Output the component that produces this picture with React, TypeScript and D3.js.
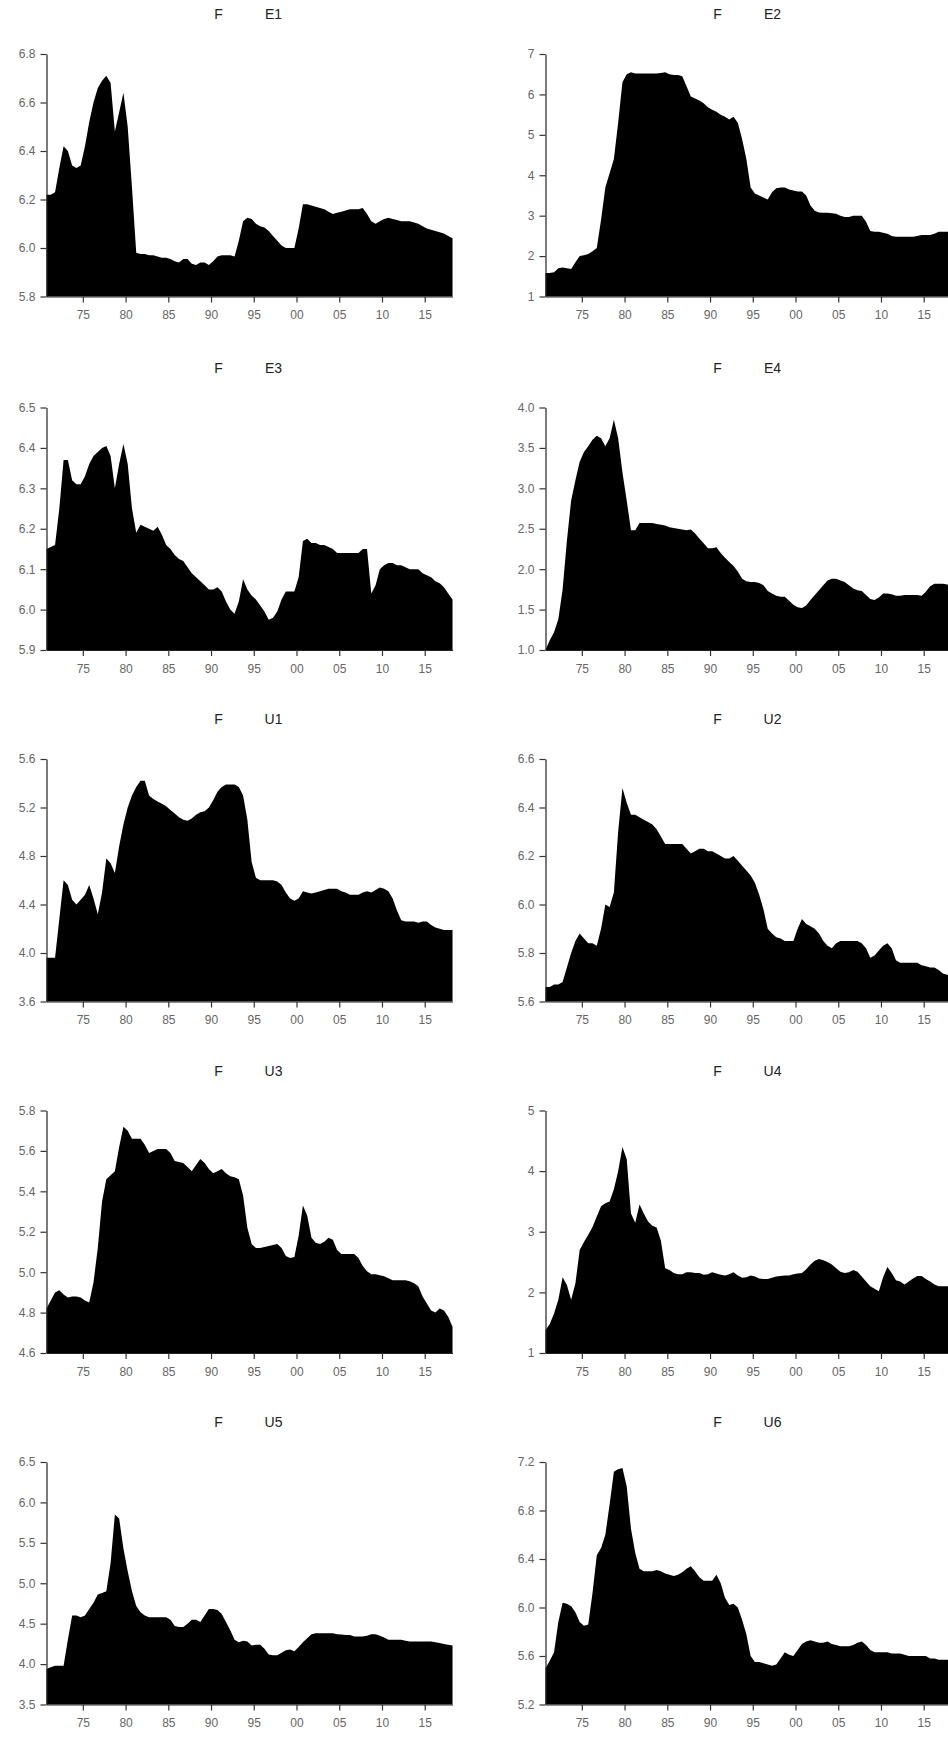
import { useEffect, useRef } from "react";
import * as d3 from "d3";

// half-year samples, first point at 1970.75
const START_YEAR = 1970.75;
const STEP = 0.5;

const xTickYears = [1975, 1980, 1985, 1990, 1995, 2000, 2005, 2010, 2015];
const xTickLabels = ["75", "80", "85", "90", "95", "00", "05", "10", "15"];

const e1 = [
  6.22, 6.22, 6.23, 6.33, 6.42, 6.4, 6.34, 6.33, 6.34, 6.42, 6.52, 6.6, 6.66, 6.69, 6.71, 6.68,
  6.48, 6.56, 6.64, 6.5, 6.25, 5.98, 5.975, 5.975, 5.97, 5.97, 5.965, 5.96, 5.96, 5.955, 5.945, 5.94,
  5.955, 5.955, 5.935, 5.93, 5.94, 5.94, 5.93, 5.945, 5.965, 5.97, 5.97, 5.97, 5.965, 6.03, 6.11, 6.125,
  6.12, 6.1, 6.09, 6.085, 6.07, 6.05, 6.03, 6.01, 6.0, 6.0, 6.0, 6.08, 6.18, 6.18, 6.175, 6.17,
  6.165, 6.16, 6.15, 6.14, 6.145, 6.15, 6.155, 6.16, 6.16, 6.16, 6.165, 6.14, 6.11, 6.1, 6.11, 6.12,
  6.125, 6.12, 6.115, 6.11, 6.11, 6.11, 6.105, 6.1, 6.09, 6.08, 6.075, 6.07, 6.065, 6.06, 6.05, 6.04,
];
const e2 = [
  1.58, 1.58, 1.6, 1.7, 1.72, 1.7, 1.68, 1.85, 2.0, 2.02, 2.05, 2.12, 2.2, 2.9, 3.7, 4.05,
  4.4, 5.3, 6.3, 6.5, 6.55, 6.52, 6.52, 6.52, 6.52, 6.52, 6.52, 6.53, 6.55, 6.5, 6.48, 6.48,
  6.45, 6.2, 5.95, 5.9, 5.85, 5.78, 5.68, 5.62, 5.57, 5.5, 5.45, 5.38, 5.45, 5.3, 4.9, 4.4,
  3.7, 3.55, 3.5, 3.45, 3.4, 3.58, 3.68, 3.7, 3.7, 3.65, 3.62, 3.6, 3.6, 3.5, 3.25, 3.12,
  3.08, 3.07, 3.07, 3.06, 3.05, 3.0, 2.97, 2.97, 3.0, 3.0, 3.0, 2.85, 2.62, 2.6, 2.6, 2.58,
  2.55, 2.5, 2.48, 2.48, 2.48, 2.48, 2.48, 2.5, 2.52, 2.52, 2.52, 2.55, 2.6, 2.6, 2.6, 2.62,
];
const e3 = [
  6.15, 6.155, 6.16, 6.25, 6.37, 6.37, 6.32, 6.31, 6.31, 6.33, 6.36, 6.38, 6.39, 6.4, 6.405, 6.38,
  6.3, 6.36, 6.41, 6.36, 6.25, 6.19, 6.21, 6.205, 6.2, 6.195, 6.205, 6.185, 6.16, 6.15, 6.135, 6.125,
  6.12, 6.105, 6.09, 6.08, 6.07, 6.06, 6.05, 6.05, 6.055, 6.045, 6.02, 6.0, 5.99, 6.02, 6.075, 6.05,
  6.035, 6.025, 6.01, 5.995, 5.975, 5.98, 5.995, 6.025, 6.045, 6.045, 6.045, 6.08, 6.17, 6.175, 6.165, 6.165,
  6.16, 6.16, 6.155, 6.15, 6.14, 6.14, 6.14, 6.14, 6.14, 6.14, 6.15, 6.15, 6.04, 6.06, 6.1, 6.11,
  6.115, 6.115, 6.11, 6.11, 6.105, 6.1, 6.1, 6.1, 6.09, 6.085, 6.08, 6.07, 6.065, 6.055, 6.04, 6.025,
];
const e4 = [
  1.0, 1.12, 1.22, 1.38, 1.75, 2.35, 2.85, 3.1, 3.33, 3.45, 3.52, 3.6, 3.65, 3.62, 3.52, 3.62,
  3.85, 3.62, 3.2, 2.85, 2.48, 2.48, 2.57, 2.57, 2.57, 2.57, 2.56, 2.55, 2.54, 2.52, 2.51, 2.5,
  2.49, 2.48, 2.49, 2.44, 2.38, 2.32, 2.26, 2.26, 2.27, 2.2, 2.14, 2.09, 2.04, 1.97, 1.88, 1.85,
  1.84, 1.84, 1.83, 1.8, 1.73, 1.7, 1.67, 1.66, 1.66, 1.61, 1.56, 1.53, 1.52, 1.55, 1.62, 1.68,
  1.74, 1.8, 1.86, 1.88, 1.88, 1.86, 1.84, 1.8, 1.76, 1.74, 1.73, 1.68, 1.63, 1.62, 1.65, 1.7,
  1.7, 1.69, 1.67, 1.67, 1.68, 1.68, 1.68, 1.68, 1.67, 1.72, 1.79, 1.82, 1.82, 1.82, 1.81, 1.8,
];
const u1 = [
  3.96, 3.96, 3.96, 4.28, 4.6, 4.56, 4.44, 4.4, 4.44, 4.48, 4.56, 4.45, 4.32, 4.5, 4.78, 4.74,
  4.66, 4.88, 5.06, 5.2, 5.3, 5.37, 5.42, 5.42, 5.3, 5.27, 5.25, 5.23, 5.21, 5.18, 5.15, 5.12,
  5.1, 5.09, 5.11, 5.14, 5.16, 5.17, 5.2, 5.26, 5.33, 5.37, 5.39, 5.39, 5.39, 5.37, 5.3, 5.1,
  4.75, 4.62, 4.6, 4.6, 4.6, 4.6, 4.59, 4.56, 4.5, 4.45, 4.43, 4.45, 4.51, 4.5, 4.49, 4.5,
  4.51, 4.52, 4.53, 4.53, 4.53, 4.51, 4.5, 4.48, 4.48, 4.48, 4.5, 4.51, 4.5, 4.52, 4.54, 4.53,
  4.51, 4.45, 4.35, 4.27, 4.26, 4.26, 4.26, 4.25, 4.26, 4.26, 4.23, 4.21, 4.2, 4.19, 4.19, 4.19,
];
const u2 = [
  5.66, 5.66, 5.67, 5.67, 5.68, 5.74, 5.8, 5.85, 5.88, 5.86, 5.84, 5.84, 5.83, 5.9, 6.0, 5.99,
  6.05, 6.3, 6.48, 6.42, 6.37, 6.37, 6.36, 6.35, 6.34, 6.33, 6.31, 6.28, 6.25, 6.25, 6.25, 6.25,
  6.25, 6.23, 6.21, 6.22, 6.23, 6.23, 6.22, 6.22, 6.21, 6.2, 6.19, 6.19, 6.2, 6.18, 6.16, 6.14,
  6.12, 6.09, 6.04, 5.98, 5.9, 5.88, 5.865, 5.86, 5.85, 5.85, 5.85, 5.9, 5.94, 5.92, 5.91, 5.9,
  5.88, 5.85, 5.83, 5.82, 5.84, 5.85, 5.85, 5.85, 5.85, 5.85, 5.84, 5.82, 5.78, 5.79, 5.81, 5.83,
  5.84, 5.82, 5.77, 5.76, 5.76, 5.76, 5.76, 5.76, 5.75, 5.745, 5.74, 5.74, 5.73, 5.715, 5.71, 5.7,
];
const u3 = [
  4.82, 4.86, 4.9, 4.91, 4.89, 4.875, 4.88, 4.88, 4.875, 4.86, 4.85, 4.95, 5.12, 5.35, 5.46, 5.48,
  5.5, 5.62, 5.72, 5.7, 5.66, 5.66, 5.66, 5.63, 5.59, 5.6, 5.61, 5.61, 5.61, 5.59, 5.55, 5.545,
  5.54, 5.52, 5.5, 5.53, 5.56, 5.54, 5.51, 5.49, 5.5, 5.51, 5.49, 5.475, 5.47, 5.46, 5.38, 5.22,
  5.14, 5.12, 5.12, 5.125, 5.13, 5.135, 5.14, 5.12, 5.08, 5.07, 5.075, 5.18, 5.33, 5.28, 5.17, 5.145,
  5.14, 5.15, 5.17, 5.16, 5.11, 5.09, 5.09, 5.09, 5.09, 5.07, 5.03, 5.005, 4.99, 4.99, 4.985, 4.98,
  4.97, 4.96, 4.96, 4.96, 4.96, 4.955, 4.945, 4.93, 4.88, 4.845, 4.81, 4.8, 4.82, 4.81, 4.78, 4.73,
];
const u4 = [
  1.38, 1.48, 1.65, 1.88, 2.25, 2.12, 1.88, 2.15, 2.7, 2.83, 2.95, 3.08, 3.25, 3.42, 3.47, 3.5,
  3.7, 4.0, 4.4, 4.2, 3.3, 3.15, 3.45, 3.3, 3.17, 3.1, 3.07, 2.85, 2.4, 2.37, 2.32, 2.3,
  2.3, 2.33, 2.33, 2.32, 2.32, 2.29, 2.3, 2.33, 2.31, 2.29, 2.28, 2.3, 2.33, 2.28, 2.24, 2.25,
  2.28, 2.26, 2.23, 2.22, 2.22, 2.24, 2.26, 2.27, 2.28, 2.28, 2.3, 2.31, 2.32, 2.38, 2.46, 2.52,
  2.55, 2.53, 2.5, 2.46, 2.4, 2.34, 2.32, 2.33, 2.37, 2.34, 2.26, 2.18, 2.1, 2.06, 2.02, 2.25,
  2.42, 2.32, 2.2, 2.18, 2.13, 2.18, 2.23, 2.27, 2.27, 2.22, 2.18, 2.13, 2.1, 2.1, 2.1, 2.1,
];
const u5 = [
  3.94, 3.96, 3.98, 3.98, 3.98, 4.3, 4.6, 4.6, 4.58, 4.6, 4.68, 4.76, 4.86, 4.88, 4.9, 5.25,
  5.85, 5.8, 5.43, 5.15, 4.9, 4.72, 4.64, 4.6, 4.58, 4.58, 4.58, 4.58, 4.58, 4.55, 4.47, 4.46,
  4.46, 4.5, 4.55, 4.55, 4.52, 4.6, 4.68, 4.68, 4.67, 4.62, 4.52, 4.42, 4.3, 4.27, 4.29, 4.28,
  4.23, 4.24, 4.24, 4.19, 4.12, 4.11, 4.11, 4.14, 4.17, 4.18, 4.16, 4.21, 4.27, 4.32, 4.37, 4.38,
  4.38, 4.38, 4.38, 4.38, 4.37, 4.365, 4.36, 4.36, 4.34, 4.34, 4.34, 4.35, 4.37, 4.37, 4.35, 4.33,
  4.3, 4.3, 4.3, 4.3, 4.29, 4.28, 4.28, 4.28, 4.28, 4.28, 4.28, 4.27, 4.26, 4.25, 4.24, 4.23,
];
const u6 = [
  5.5, 5.56, 5.63, 5.88, 6.04, 6.03, 6.01, 5.96, 5.88, 5.85, 5.86, 6.12, 6.43, 6.49, 6.6, 6.85,
  7.12, 7.14, 7.15, 7.0, 6.65, 6.45, 6.32, 6.3, 6.3, 6.3, 6.31, 6.3, 6.28, 6.27, 6.26, 6.27,
  6.29, 6.32, 6.34, 6.3, 6.25, 6.22, 6.22, 6.22, 6.27, 6.2, 6.08, 6.02, 6.03, 6.0, 5.9, 5.78,
  5.6, 5.55, 5.55, 5.54, 5.53, 5.52, 5.53, 5.58, 5.63, 5.61, 5.6, 5.65, 5.7, 5.72, 5.73, 5.72,
  5.71, 5.71, 5.72, 5.7, 5.69, 5.68, 5.68, 5.68, 5.69, 5.71, 5.72, 5.69, 5.65, 5.63, 5.63, 5.63,
  5.63, 5.62, 5.62, 5.62, 5.61, 5.6, 5.6, 5.6, 5.6, 5.6, 5.58, 5.58, 5.57, 5.57, 5.57, 5.57,
];

const panels = [
  { label: "E1", values: e1, domain: [5.8, 6.8], ticks: [5.8, 6.0, 6.2, 6.4, 6.6, 6.8], fmt: ".1f" },
  { label: "E2", values: e2, domain: [1, 7], ticks: [1, 2, 3, 4, 5, 6, 7], fmt: "d" },
  { label: "E3", values: e3, domain: [5.9, 6.5], ticks: [5.9, 6.0, 6.1, 6.2, 6.3, 6.4, 6.5], fmt: ".1f" },
  { label: "E4", values: e4, domain: [1.0, 4.0], ticks: [1.0, 1.5, 2.0, 2.5, 3.0, 3.5, 4.0], fmt: ".1f" },
  { label: "U1", values: u1, domain: [3.6, 5.6], ticks: [3.6, 4.0, 4.4, 4.8, 5.2, 5.6], fmt: ".1f" },
  { label: "U2", values: u2, domain: [5.6, 6.6], ticks: [5.6, 5.8, 6.0, 6.2, 6.4, 6.6], fmt: ".1f" },
  { label: "U3", values: u3, domain: [4.6, 5.8], ticks: [4.6, 4.8, 5.0, 5.2, 5.4, 5.6, 5.8], fmt: ".1f" },
  { label: "U4", values: u4, domain: [1, 5], ticks: [1, 2, 3, 4, 5], fmt: "d" },
  { label: "U5", values: u5, domain: [3.5, 6.5], ticks: [3.5, 4.0, 4.5, 5.0, 5.5, 6.0, 6.5], fmt: ".1f" },
  { label: "U6", values: u6, domain: [5.2, 7.2], ticks: [5.2, 5.6, 6.0, 6.4, 6.8, 7.2], fmt: ".1f" },
];

export default function App() {
  const ref = useRef<SVGSVGElement>(null);

  useEffect(() => {
    const width = 948;
    const height = 1737;
    const svg = d3.select(ref.current);
    svg.selectAll("*").remove();
    svg.attr("width", width).attr("height", height);

    const colX = [46.5, 545.5];
    const rowTop = [54, 407.5, 759, 1110.5, 1462];
    const plotW = 406;
    const plotH = 242.5;
    const font = "'Liberation Sans', Arial, sans-serif";

    const x = d3
      .scaleLinear()
      .domain([START_YEAR, START_YEAR + STEP * (e1.length - 1)])
      .range([0, plotW]);

    panels.forEach((p, i) => {
      const g = svg
        .append("g")
        .attr("transform", `translate(${colX[i % 2]},${rowTop[Math.floor(i / 2)]})`);

      const y = d3.scaleLinear().domain(p.domain).range([plotH, 0]);

      const pts = p.values.map((v, k) => ({ year: START_YEAR + k * STEP, v }));
      const area = d3
        .area<{ year: number; v: number }>()
        .x((d) => x(d.year))
        .y0(plotH)
        .y1((d) => y(d.v));

      g.append("path").datum(pts).attr("fill", "#000").attr("d", area);

      const yAxis = g
        .append("g")
        .call(
          d3
            .axisLeft(y)
            .tickValues(p.ticks)
            .tickFormat(d3.format(p.fmt))
            .tickSize(6)
            .tickSizeOuter(0)
            .tickPadding(5)
        );

      const xAxis = g
        .append("g")
        .attr("transform", `translate(0,${plotH})`)
        .call(
          d3
            .axisBottom(x)
            .tickValues(xTickYears)
            .tickFormat((d, j) => xTickLabels[j])
            .tickSize(6)
            .tickSizeOuter(0)
            .tickPadding(8)
        );

      [yAxis, xAxis].forEach((ax) => {
        ax.select(".domain").attr("stroke", "#222").attr("stroke-width", 1.2);
        ax.selectAll(".tick line").attr("stroke", "#333").attr("stroke-width", 1.2);
        ax.selectAll(".tick text")
          .attr("fill", "#666")
          .style("font-family", font)
          .style("font-size", "12px");
      });

      const cx = plotW / 2;
      g.append("text")
        .attr("x", cx - 31)
        .attr("y", -35)
        .attr("text-anchor", "middle")
        .attr("fill", "#222")
        .style("font-family", font)
        .style("font-size", "14px")
        .text("F");
      g.append("text")
        .attr("x", cx + 24)
        .attr("y", -35)
        .attr("text-anchor", "middle")
        .attr("fill", "#222")
        .style("font-family", font)
        .style("font-size", "14px")
        .text(p.label);
    });
  }, []);

  return (
    <svg
      ref={ref}
      style={{ position: "absolute", left: 0, top: 0, background: "#fff" }}
    />
  );
}
